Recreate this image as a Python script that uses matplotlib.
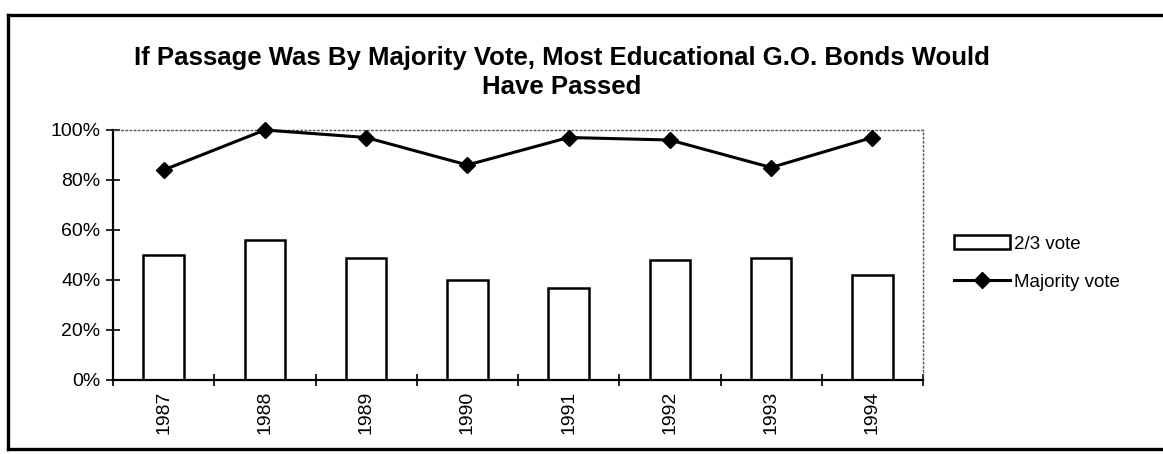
import matplotlib
matplotlib.use("Agg")
import matplotlib.pyplot as plt
from matplotlib.lines import Line2D
from matplotlib.ticker import FixedLocator, PercentFormatter

plt.rcParams['font.family'] = ['Liberation Sans', 'DejaVu Sans']

# data
years = ['1987', '1988', '1989', '1990', '1991', '1992', '1993', '1994']
two_thirds = [50, 56, 49, 40, 37, 48, 49, 42]
majority = [84, 100, 97, 86, 97, 96, 85, 97]

W, H = 1163, 454
fig = plt.figure(figsize=(W / 100, H / 100), dpi=100)
fig.patch.set_facecolor('white')

# plot area, pixel box 113..923 x 130..380
ax = fig.add_axes([113 / W, (H - 380) / H, 810 / W, 250 / H])
x = list(range(len(years)))

bars = ax.bar(x, two_thirds, width=0.4, color='white', edgecolor='black',
              linewidth=1.8, label='2/3 vote', zorder=2)
line, = ax.plot(x, majority, color='black', linewidth=2.2, marker='D',
                markersize=8, label='Majority vote', zorder=3, clip_on=False)

ax.set_xlim(-0.5, len(years) - 0.5)
ax.set_ylim(0, 100)
ax.yaxis.set_major_locator(FixedLocator([0, 20, 40, 60, 80, 100]))
ax.yaxis.set_major_formatter(PercentFormatter(decimals=0))

ax.set_xticks(x)
ax.set_xticklabels(years, rotation=90)
ax.set_xticks([i + 0.5 for i in range(-1, len(years))], minor=True)
ax.tick_params(axis='x', which='major', length=0, pad=8, labelsize=14)
ax.tick_params(axis='x', which='minor', direction='inout', length=9, width=1.2)
ax.tick_params(axis='y', direction='inout', length=10, width=1.2,
               labelsize=14, pad=4)

for side in ['left', 'bottom']:
    ax.spines[side].set_linewidth(1.6)
for side in ['top', 'right']:
    ax.spines[side].set_linestyle((0, (1, 2)))
    ax.spines[side].set_color('#555555')
    ax.spines[side].set_linewidth(1.0)

fig.text(562 / W, 1 - 46 / H,
         'If Passage Was By Majority Vote, Most Educational G.O. Bonds Would\nHave Passed',
         ha='center', va='top', fontsize=18.5, fontweight='bold', linespacing=1.25)

fig.legend(handles=[bars, line], loc='upper left',
           bbox_to_anchor=(954 / W, 1 - 235 / H),
           frameon=False, fontsize=13.5, handlelength=3.0, handleheight=0.8,
           handletextpad=0.2, labelspacing=1.1, borderpad=0, borderaxespad=0)

# thick outer frame, open on the right side
lw = 2.4
fig.add_artist(Line2D([8 / W, 8 / W], [1 - 15 / H, 1 - 449 / H],
                      color='black', linewidth=lw, transform=fig.transFigure))
fig.add_artist(Line2D([8 / W, 1.0], [1 - 15 / H, 1 - 15 / H],
                      color='black', linewidth=lw, transform=fig.transFigure))
fig.add_artist(Line2D([8 / W, 1.0], [1 - 449 / H, 1 - 449 / H],
                      color='black', linewidth=lw, transform=fig.transFigure))

fig.savefig('out.png', dpi=100)
